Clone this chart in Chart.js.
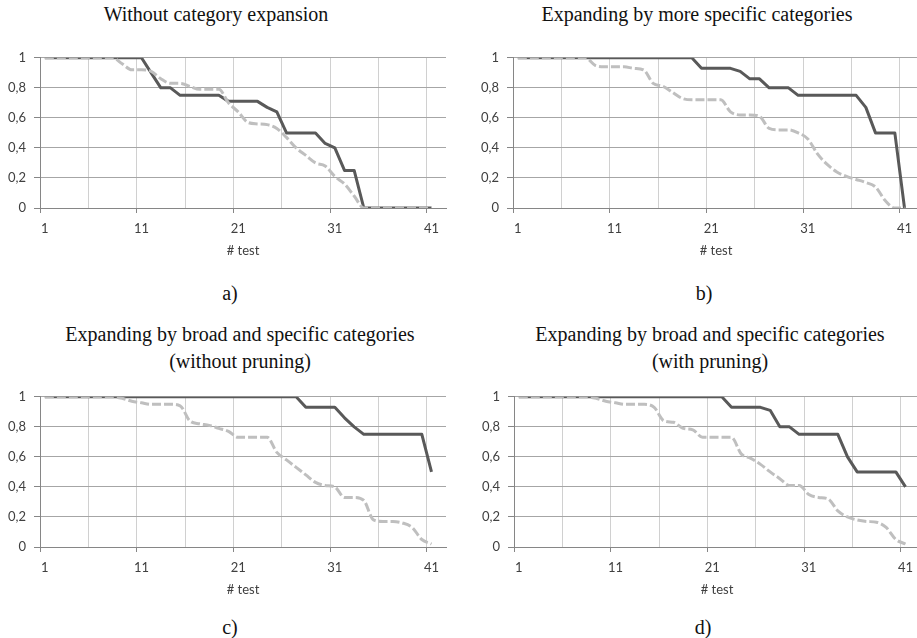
<!DOCTYPE html>
<html>
<head>
<meta charset="utf-8">
<script src="https://cdn.jsdelivr.net/npm/chart.js@4.4.1/dist/chart.umd.min.js"></script>
<style>
html, body { margin: 0; padding: 0; background: #fff; width: 917px; height: 638px; overflow: hidden; }
.box { position: absolute; width: 450px; height: 220px; }
.txt { position: absolute; width: 500px; text-align: center; font-family: "Liberation Serif", "Times New Roman", serif; font-size: 20px; line-height: 20px; color: #111; }
.two { line-height: 27px; }
</style>
</head>
<body>
<div class="txt" style="left:-34px; top:4px;">Without category expansion</div>
<div class="txt" style="left:447px; top:4px;">Expanding by more specific categories</div>
<div class="txt two" style="left:-10px; top:321px;">Expanding by broad and specific categories<br>(without pruning)</div>
<div class="txt two" style="left:460px; top:321px;">Expanding by broad and specific categories<br>(with pruning)</div>

<div class="box" style="left:0; top:42px;"><canvas id="chartA"></canvas></div>
<div class="box" style="left:473px; top:42px;"><canvas id="chartB"></canvas></div>
<div class="box" style="left:0; top:381px;"><canvas id="chartC"></canvas></div>
<div class="box" style="left:474px; top:381px;"><canvas id="chartD"></canvas></div>

<div class="txt" style="left:-20px; top:283px;">a)</div>
<div class="txt" style="left:454px; top:283px;">b)</div>
<div class="txt" style="left:-20px; top:617px;">c)</div>
<div class="txt" style="left:453px; top:617px;">d)</div>

<script>
// test number on the x axis (last category left empty, like the excel sheet)
const xLabels = ['1','2','3','4','5','6','7','8','9','10','11','12','13','14','15','16','17','18','19','20','21',
    '22','23','24','25','26','27','28','29','30','31','32','33','34','35','36','37','38','39','40','41','42'];
const xTitle = '# test';

// a) without category expansion
const aSolid = [1,1,1,1,1,1,1,1,1,1,1,0.9,0.8,0.8,0.75,0.75,0.75,0.75,0.75,0.71,0.71,0.71,0.71,0.67,0.64,
    0.5,0.5,0.5,0.5,0.43,0.4,0.25,0.25,0,0,0,0,0,0,0,0];
const aDashed = [1,1,1,1,1,1,1,1,0.96,0.92,0.92,0.91,0.86,0.83,0.83,0.81,0.79,0.79,0.79,0.7,0.64,0.57,0.56,0.555,0.53,
    0.47,0.4,0.35,0.3,0.28,0.21,0.16,0.08,0,0,0,0,0,0,0,0];

// b) expanding by more specific categories
const bSolid = [1,1,1,1,1,1,1,1,1,1,1,1,1,1,1,1,1,1,1,0.93,0.93,0.93,0.93,0.91,0.86,0.86,0.8,0.8,0.8,0.75,
    0.75,0.75,0.75,0.75,0.75,0.75,0.67,0.5,0.5,0.5,0];
const bDashed = [1,1,1,1,1,1,1,1,0.95,0.94,0.94,0.94,0.93,0.92,0.83,0.81,0.77,0.73,0.72,0.72,0.72,0.72,0.64,0.62,0.62,
    0.61,0.53,0.52,0.52,0.5,0.46,0.36,0.29,0.24,0.21,0.19,0.17,0.14,0.05,0,0];

// c) broad and specific, without pruning
const cSolid = [1,1,1,1,1,1,1,1,1,1,1,1,1,1,1,1,1,1,1,1,1,1,1,1,1,1,1,0.93,0.93,0.93,0.93,0.86,0.8,0.75,
    0.75,0.75,0.75,0.75,0.75,0.75,0.5];
const cDashed = [1,1,1,1,1,1,1,1,0.99,0.97,0.96,0.95,0.95,0.95,0.94,0.84,0.82,0.81,0.79,0.77,0.73,0.73,0.73,0.73,0.63,
    0.58,0.53,0.48,0.43,0.41,0.4,0.33,0.33,0.31,0.18,0.17,0.17,0.16,0.13,0.05,0.02];

// d) broad and specific, with pruning
const dSolid = [1,1,1,1,1,1,1,1,1,1,1,1,1,1,1,1,1,1,1,1,1,1,0.93,0.93,0.93,0.93,0.91,0.8,0.8,0.75,0.75,
    0.75,0.75,0.75,0.6,0.5,0.5,0.5,0.5,0.5,0.4];
const dDashed = [1,1,1,1,1,1,1,1,0.99,0.97,0.96,0.95,0.95,0.95,0.93,0.84,0.83,0.79,0.78,0.73,0.73,0.73,0.73,0.62,0.59,
    0.55,0.5,0.455,0.41,0.41,0.35,0.33,0.32,0.24,0.2,0.18,0.17,0.165,0.13,0.05,0.02];

const tickFont = { family: 'Lato', size: 13 };
const tickColor = '#404040';

function drawPanel(id, solid, dashed) {
    new Chart(document.getElementById(id), {
        type: 'line',
        data: {
            labels: xLabels,
            datasets: [
                {
                    // dashed first so it sits on top of the solid one
                    data: dashed,
                    borderColor: '#bfbfbf',
                    borderWidth: 3,
                    borderDash: [9, 3],
                    pointRadius: 0,
                    cubicInterpolationMode: 'monotone'
                },
                {
                    data: solid,
                    borderColor: '#595959',
                    borderWidth: 3,
                    borderJoinStyle: 'round',
                    pointRadius: 0,
                    tension: 0
                }
            ]
        },
        options: {
            responsive: true,
            maintainAspectRatio: false,
            animation: false,
            layout: { padding: { top: 10, right: 4, left: 0, bottom: 0 } },
            plugins: {
                legend: { display: false },
                tooltip: { enabled: false }
            },
            scales: {
                x: {
                    offset: true,
                    afterFit: function (s) { s.height = 54; },
                    grid: {
                        offset: true,
                        tickLength: 5,
                        color: function (c) { return c.index % 5 === 0 ? '#d0d0d0' : 'rgba(0,0,0,0)'; },
                        tickColor: function (c) { return c.index % 10 === 0 ? '#868686' : 'rgba(0,0,0,0)'; }
                    },
                    border: { color: '#868686' },
                    ticks: {
                        autoSkip: false,
                        maxRotation: 0,
                        padding: 8,
                        color: tickColor,
                        font: tickFont,
                        callback: function (v, i) { return i % 10 === 0 ? this.getLabelForValue(v) : ''; }
                    },
                    title: {
                        display: true,
                        text: xTitle,
                        color: tickColor,
                        font: tickFont,
                        padding: { top: 2, bottom: 3 }
                    }
                },
                y: {
                    min: 0,
                    max: 1,
                    afterFit: function (s) { s.width = 40; },
                    grid: { color: '#a6a6a6', tickLength: 6, tickColor: '#868686' },
                    border: { color: '#868686' },
                    ticks: {
                        stepSize: 0.2,
                        padding: 8,
                        color: tickColor,
                        font: tickFont,
                        callback: function (v) { return String(Math.round(v * 10) / 10).replace('.', ','); }
                    }
                }
            }
        }
    });
}

drawPanel('chartA', aSolid, aDashed);
drawPanel('chartB', bSolid, bDashed);
drawPanel('chartC', cSolid, cDashed);
drawPanel('chartD', dSolid, dDashed);
</script>
</body>
</html>
